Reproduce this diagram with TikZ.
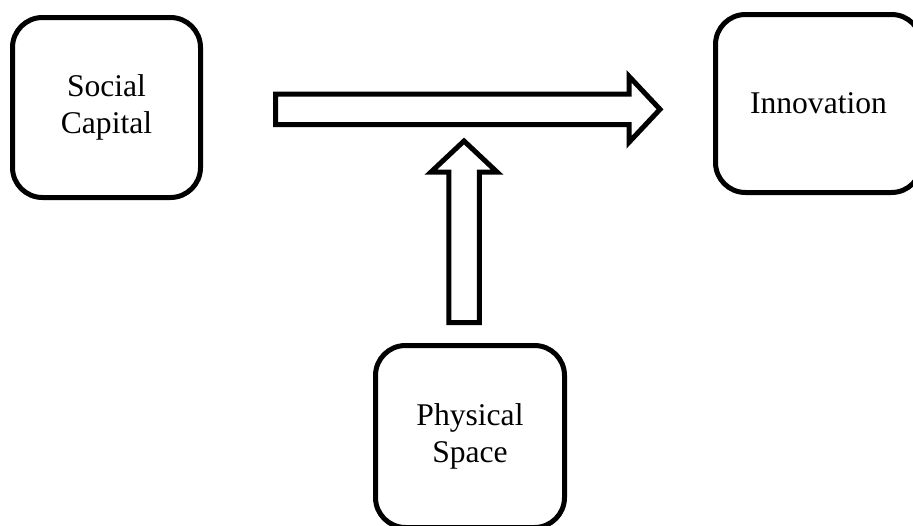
\documentclass[tikz,border=0pt]{standalone}
\usepackage{fontspec}
\setmainfont{Liberation Serif}

\begin{document}
\begin{tikzpicture}[x=1pt, y=-1pt, line join=miter,
  box/.style={draw=black, line width=5pt, rounded corners=30pt, align=center, inner sep=0pt,
              font=\fontsize{31.6}{36.3}\selectfont},
  blockarrow/.style={draw=black, line width=5pt, fill=white}]

\def\sw{15.25} % half width of the shaft
\def\hw{33}    % half width of the head
\def\hl{31}    % length of the head

\useasboundingbox (0,0) rectangle (913,525);

% the three boxes
\node[box, minimum width=188pt, minimum height=180pt] (social)     at (106.5,107.5) {Social\\Capital};
\node[box, minimum width=206pt, minimum height=178pt] (innovation) at (818.5,103.5) {Innovation};
\node[box, minimum width=189pt, minimum height=182pt] (space)      at (470,436.5)   {Physical\\Space};

% horizontal block arrow
\coordinate (htail) at (275.5,109.3);
\coordinate (htip)  at (660,109.3);
\pgfmathsetmacro\xb{660 - \hl}
\draw[blockarrow] (275.5,109.3-\sw) -- (\xb,109.3-\sw) -- (\xb,109.3-\hw) -- (htip)
                  -- (\xb,109.3+\hw) -- (\xb,109.3+\sw) -- (275.5,109.3+\sw) -- cycle;

% vertical block arrow
\coordinate (vtail) at (464,322.5);
\coordinate (vtip)  at (464,141);
\pgfmathsetmacro\yb{141 + \hl}
\draw[blockarrow] (464-\sw,322.5) -- (464-\sw,\yb) -- (464-\hw,\yb) -- (vtip)
                  -- (464+\hw,\yb) -- (464+\sw,\yb) -- (464+\sw,322.5) -- cycle;

\end{tikzpicture}
\end{document}
